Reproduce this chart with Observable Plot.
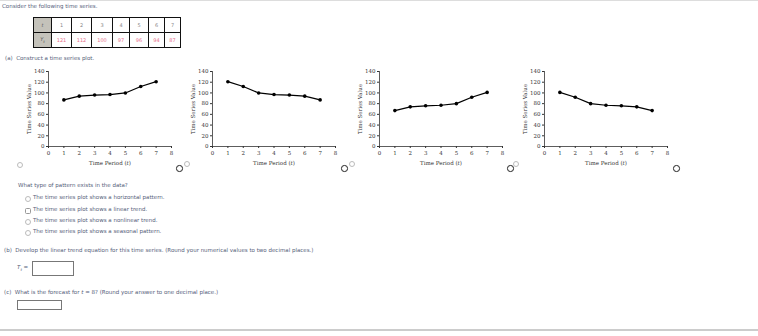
<!DOCTYPE html>
<html>
<head>
<meta charset="utf-8">
<script src="https://cdn.jsdelivr.net/npm/d3@7"></script>
<script src="https://cdn.jsdelivr.net/npm/@observablehq/plot@0.6"></script>
<style>
  html, body { margin: 0; padding: 0; background: #fff; }
  body { width: 758px; height: 336px; position: relative; overflow: hidden;
         font-family: "DejaVu Sans", Verdana, sans-serif; font-size: 5.5px; color: #55607a; }
  .abs { position: absolute; white-space: nowrap; line-height: 1; }
  table.ts { position: absolute; left: 33px; top: 17px; border-collapse: collapse; border: 1.5px solid #111; }
  table.ts td { border: 1px solid #111; height: 14px; padding: 0; text-align: center; font-size: 5px; color: #888; }
  table.ts td.hd { background: #c4c2ba; color: #555; font-style: italic; }
  table.ts td.val { color: #e8708a; }
  .radio { position: absolute; width: 4px; height: 4px; border: 0.5px solid #bbb; border-radius: 50%; background: #fff; }
  .radio.sq { border-radius: 1.5px; width: 4.5px; height: 4.5px; border-color: #999; }
  .bold { position: absolute; width: 4.5px; height: 4.5px; border: 1px solid #222; border-radius: 50%; }
  .box { position: absolute; border: 1px solid #777; background: #fff; }
</style>
</head>
<body>
<div class="abs" style="left:0;top:0;width:758px;height:1px;background:#ddd"></div>
<div class="abs" style="left:2px;top:4px">Consider the following time series.</div>
<div id="tablewrap"></div>
<div class="abs" style="left:5px;top:56px">(a)&nbsp;&nbsp;Construct a time series plot.</div>

<div id="plots"></div>

<div class="abs" style="left:18px;top:183px">What type of pattern exists in the data?</div>
<div id="opts"></div>

<div class="abs" style="left:4px;top:248px">(b)&nbsp;&nbsp;Develop the linear trend equation for this time series. (Round your numerical values to two decimal places.)</div>
<div class="abs" style="left:17px;top:265px;font-style:italic">T<sub style="font-size:3.8px">t</sub><span style="font-style:normal"> =</span></div>
<div class="box" style="left:32px;top:261px;width:40px;height:13px"></div>
<div class="abs" style="left:4px;top:290px">(c)&nbsp;&nbsp;What is the forecast for <i>t</i> = 8? (Round your answer to one decimal place.)</div>
<div class="box" style="left:17px;top:300px;width:43px;height:8px"></div>
<div class="abs" style="left:0;top:329px;width:758px;height:1.5px;background:#ccc"></div>

<script>
// ---- data ----
const periods = [1, 2, 3, 4, 5, 6, 7];
const seriesValues = [121, 112, 100, 97, 96, 94, 87];
const optionA = [87, 94, 96, 97, 100, 112, 121];
const optionB = [121, 112, 100, 97, 96, 94, 87];
const optionC = [67, 74, 76, 77, 80, 92, 101];
const optionD = [101, 92, 80, 77, 76, 74, 67];
const xTicks = [0, 1, 2, 3, 4, 5, 6, 7, 8];
const yTicks = [0, 20, 40, 60, 80, 100, 120, 140];
const patternOptions = [
  "The time series plot shows a horizontal pattern.",
  "The time series plot shows a linear trend.",
  "The time series plot shows a nonlinear trend.",
  "The time series plot shows a seasonal pattern."
];

// ---- table ----
const colW = [17, 19, 19, 20, 16, 18, 15, 15];
let html = '<table class="ts"><tr><td class="hd" style="width:' + colW[0] + 'px">t</td>';
periods.forEach((p, i) => { html += '<td style="width:' + colW[i + 1] + 'px">' + p + '</td>'; });
html += '</tr><tr><td class="hd">Y<sub style="font-size:3.8px">t</sub></td>';
seriesValues.forEach(v => { html += '<td class="val">' + v + '</td>'; });
html += '</tr></table>';
document.getElementById("tablewrap").innerHTML = html;

// ---- options ----
const optsEl = document.getElementById("opts");
const optTops = [195, 207, 218, 229];
patternOptions.forEach((txt, i) => {
  const c = document.createElement("div");
  c.className = "radio" + (i === 1 ? " sq" : "");
  c.style.left = "24.5px";
  c.style.top = (optTops[i] + 0.5) + "px";
  optsEl.appendChild(c);
  const t = document.createElement("div");
  t.className = "abs";
  t.style.left = "33px";
  t.style.top = optTops[i] + "px";
  t.textContent = txt;
  optsEl.appendChild(t);
});

// ---- plots ----
const plotsEl = document.getElementById("plots");
const panels = [optionA, optionB, optionC, optionD];
const lefts = [18, 182, 349, 514];
const smallRadio = [[17, 162], [184, 161], [349, 161], [513, 161]];
const boldRadio = [[176, 165], [341, 165], [507, 165], [673, 165]];

panels.forEach((vals, k) => {
  const data = periods.map((t, i) => ({t, v: vals[i]}));
  const svg = Plot.plot({
    width: 160, height: 105,
    marginLeft: 30, marginRight: 7, marginTop: 8, marginBottom: 22,
    style: {fontFamily: "'DejaVu Serif', 'Liberation Serif', serif", fontSize: "5.5px", color: "#333", background: "transparent", overflow: "visible"},
    x: {domain: [0, 8], ticks: xTicks, tickSize: 2, tickPadding: 3, label: "Time Period (t)", labelAnchor: "center", labelOffset: 18, labelArrow: "none"},
    y: {domain: [0, 140], ticks: yTicks, tickSize: 2, tickPadding: 2, label: "Time Series Value", labelAnchor: "center", labelOffset: 21, labelArrow: "none"},
    marks: [
      Plot.ruleY([0], {stroke: "#333", strokeWidth: 0.8}),
      Plot.ruleX([0], {stroke: "#333", strokeWidth: 0.8}),
      Plot.line(data, {x: "t", y: "v", stroke: "#000", strokeWidth: 1.2}),
      Plot.dot(data, {x: "t", y: "v", fill: "#000", r: 1.8})
    ]
  });
  svg.style.position = "absolute";
  svg.style.left = lefts[k] + "px";
  svg.style.top = "63px";
  // italic t in x label
  const xl = svg.querySelector('[aria-label="x-axis label"] text');
  if (xl) { xl.innerHTML = 'Time Period (<tspan font-style="italic">t</tspan>)'; }
  const yl = svg.querySelector('[aria-label="y-axis label"] text');
  if (yl) { yl.textContent = "Time Series Value"; }
  plotsEl.appendChild(svg);

  const r = document.createElement("div");
  r.className = "radio";
  r.style.left = smallRadio[k][0] + "px"; r.style.top = smallRadio[k][1] + "px";
  plotsEl.appendChild(r);
  const b = document.createElement("div");
  b.className = "bold";
  b.style.left = boldRadio[k][0] + "px"; b.style.top = boldRadio[k][1] + "px";
  plotsEl.appendChild(b);
});
</script>
</body>
</html>
